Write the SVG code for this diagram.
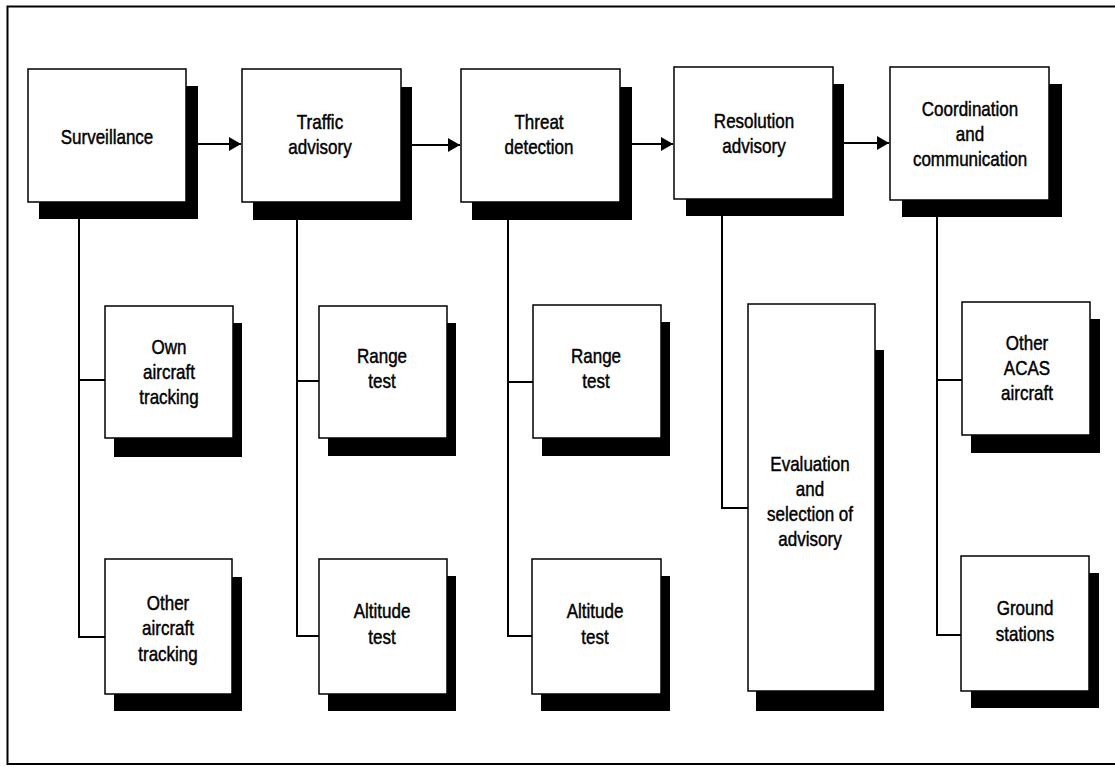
<svg xmlns="http://www.w3.org/2000/svg" width="1115" height="767" viewBox="0 0 1115 767">
<style>
.sh{fill:#000}
.box{fill:#fff;stroke:#000;stroke-width:1.5}
.conn{stroke:#000;stroke-width:2;fill:none}
.frame{stroke:#000;stroke-width:2;fill:none}
text{font-family:'Liberation Sans',Arial,sans-serif;font-size:20px;text-anchor:middle;fill:#000;stroke:#000;stroke-width:0.45}
</style>
<defs>
<marker id="ah" markerUnits="userSpaceOnUse" markerWidth="13" markerHeight="15" refX="12" refY="7" orient="auto">
<path d="M0,0 L12,7 L0,14 z" fill="#000"/>
</marker>
</defs>
<rect width="1115" height="767" fill="#fff"/>
<path class="frame" d="M1115,6.5 H7.5 V764 H1115"/>
<g id="connectors">
<path class="conn" d="M198,144 H241" marker-end="url(#ah)"/>
<path class="conn" d="M412,145 H460" marker-end="url(#ah)"/>
<path class="conn" d="M632,144 H673" marker-end="url(#ah)"/>
<path class="conn" d="M844,143 H889" marker-end="url(#ah)"/>
<path class="conn" d="M79,219 V637 H105 M79,380 H105"/>
<path class="conn" d="M297,220 V636 H319 M297,381 H319"/>
<path class="conn" d="M508,220 V636 H532 M508,382 H533"/>
<path class="conn" d="M722,216 V508 H748"/>
<path class="conn" d="M937,217 V635 H961 M937,380 H962"/>
</g>
<g id="surveillance">
<rect class="sh" x="39" y="86" width="159" height="133"/>
<rect class="box" x="28" y="69" width="158" height="133"/>
<g transform="translate(107,0) scale(0.85,1)"><text x="0" y="144">Surveillance</text></g>
</g>
<g id="traffic-advisory">
<rect class="sh" x="253" y="87" width="159" height="133"/>
<rect class="box" x="242" y="69" width="159" height="133"/>
<g transform="translate(320,0) scale(0.85,1)"><text x="0" y="129.5">Traffic</text><text x="0" y="154.5">advisory</text></g>
</g>
<g id="threat-detection">
<rect class="sh" x="472" y="87" width="160" height="133"/>
<rect class="box" x="461" y="69" width="159" height="133"/>
<g transform="translate(539,0) scale(0.85,1)"><text x="0" y="129.5">Threat</text><text x="0" y="154.5">detection</text></g>
</g>
<g id="resolution-advisory">
<rect class="sh" x="686" y="84" width="158" height="132"/>
<rect class="box" x="674" y="67" width="159" height="132"/>
<g transform="translate(754,0) scale(0.85,1)"><text x="0" y="128.5">Resolution</text><text x="0" y="153.5">advisory</text></g>
</g>
<g id="coordination">
<rect class="sh" x="902" y="84" width="160" height="133"/>
<rect class="box" x="890" y="67" width="159" height="133"/>
<g transform="translate(970,0) scale(0.85,1)"><text x="0" y="116.5">Coordination</text><text x="0" y="141.5">and</text><text x="0" y="166.5">communication</text></g>
</g>
<g id="own-aircraft-tracking">
<rect class="sh" x="114" y="323" width="128" height="134"/>
<rect class="box" x="105" y="306" width="128" height="132"/>
<g transform="translate(169,0) scale(0.85,1)"><text x="0" y="354">Own</text><text x="0" y="379">aircraft</text><text x="0" y="404">tracking</text></g>
</g>
<g id="range-test-1">
<rect class="sh" x="328" y="323" width="128" height="133"/>
<rect class="box" x="319" y="306" width="128" height="132"/>
<g transform="translate(382,0) scale(0.85,1)"><text x="0" y="363.5">Range</text><text x="0" y="388.5">test</text></g>
</g>
<g id="range-test-2">
<rect class="sh" x="542" y="322" width="128" height="134"/>
<rect class="box" x="533" y="305" width="128" height="133"/>
<g transform="translate(596,0) scale(0.85,1)"><text x="0" y="363.5">Range</text><text x="0" y="388.5">test</text></g>
</g>
<g id="evaluation">
<rect class="sh" x="756" y="350" width="128" height="361"/>
<rect class="box" x="748" y="304" width="127" height="387"/>
<g transform="translate(810,0) scale(0.85,1)"><text x="0" y="471.5">Evaluation</text><text x="0" y="496.5">and</text><text x="0" y="521.5">selection of</text><text x="0" y="546.5">advisory</text></g>
</g>
<g id="other-acas-aircraft">
<rect class="sh" x="971" y="319" width="129" height="134"/>
<rect class="box" x="962" y="302" width="128" height="133"/>
<g transform="translate(1027,0) scale(0.85,1)"><text x="0" y="350.5">Other</text><text x="0" y="375.5">ACAS</text><text x="0" y="400.5">aircraft</text></g>
</g>
<g id="other-aircraft-tracking">
<rect class="sh" x="114" y="577" width="128" height="134"/>
<rect class="box" x="105" y="559" width="127" height="135"/>
<g transform="translate(168,0) scale(0.85,1)"><text x="0" y="610">Other</text><text x="0" y="635.5">aircraft</text><text x="0" y="661">tracking</text></g>
</g>
<g id="altitude-test-1">
<rect class="sh" x="328" y="576" width="128" height="135"/>
<rect class="box" x="319" y="559" width="128" height="135"/>
<g transform="translate(382,0) scale(0.85,1)"><text x="0" y="618.5">Altitude</text><text x="0" y="644">test</text></g>
</g>
<g id="altitude-test-2">
<rect class="sh" x="541" y="576" width="129" height="135"/>
<rect class="box" x="532" y="559" width="129" height="135"/>
<g transform="translate(595,0) scale(0.85,1)"><text x="0" y="618.5">Altitude</text><text x="0" y="644">test</text></g>
</g>
<g id="ground-stations">
<rect class="sh" x="971" y="573" width="128" height="135"/>
<rect class="box" x="961" y="556" width="128" height="135"/>
<g transform="translate(1025,0) scale(0.85,1)"><text x="0" y="615.5">Ground</text><text x="0" y="641">stations</text></g>
</g>
</svg>
